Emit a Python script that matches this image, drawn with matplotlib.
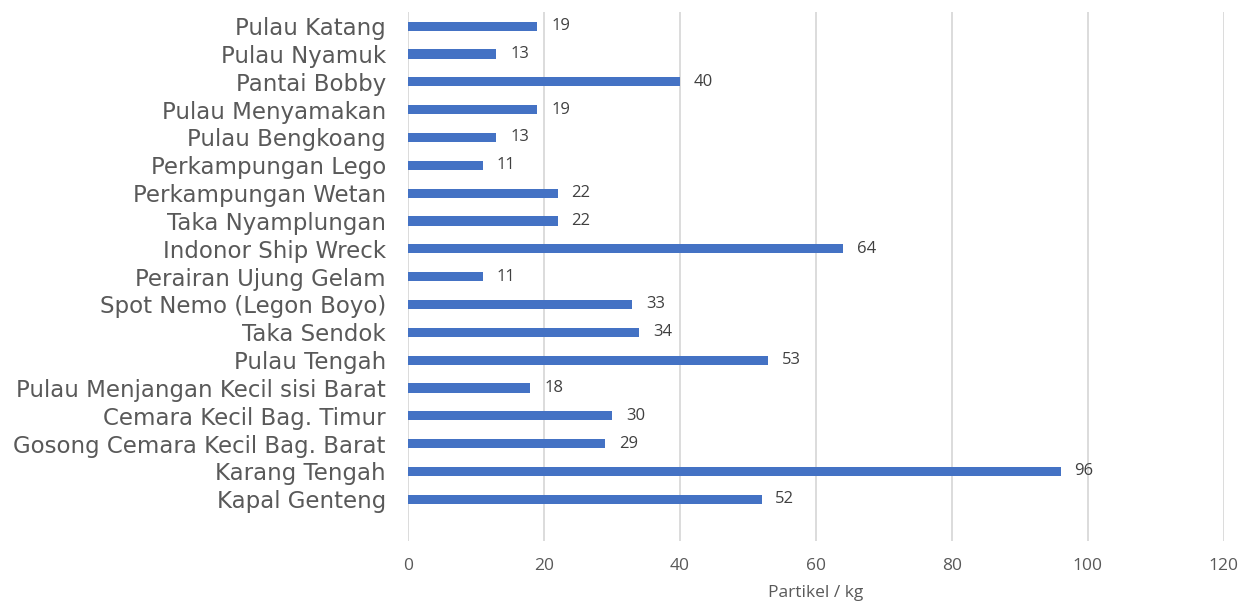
import matplotlib
matplotlib.use("Agg")
import matplotlib.pyplot as plt
import numpy as np

# categories listed top to bottom, as in the chart
sites = [
    "Pulau Katang",
    "Pulau Nyamuk",
    "Pantai Bobby",
    "Pulau Menyamakan",
    "Pulau Bengkoang",
    "Perkampungan Lego",
    "Perkampungan Wetan",
    "Taka Nyamplungan",
    "Indonor Ship Wreck",
    "Perairan Ujung Gelam",
    "Spot Nemo (Legon Boyo)",
    "Taka Sendok",
    "Pulau Tengah",
    "Pulau Menjangan Kecil sisi Barat",
    "Cemara Kecil Bag. Timur",
    "Gosong Cemara Kecil Bag. Barat",
    "Karang Tengah",
    "Kapal Genteng",
]
particles = [19, 13, 40, 19, 13, 11, 22, 22, 64, 11, 33, 34, 53, 18, 30, 29, 96, 52]
x_ticks = [0, 20, 40, 60, 80, 100, 120]

fig = plt.figure(figsize=(12.45, 6.1), dpi=100)
ax = fig.add_axes([0.3277, 0.113, 0.6553, 0.867])

n = len(sites)
ypos = np.arange(n)[::-1]
ax.barh(ypos, particles, height=0.33, color="#4472C4", zorder=3)

for y, v in zip(ypos, particles):
    ax.annotate(str(v), (v, y), xytext=(10, 0), textcoords="offset points",
                va="center", ha="left", fontsize=12, color="#404040",
                family="Open Sans")

ax.set_xlim(0, 120)
ax.set_ylim(-1.5, n - 0.5)
ax.set_xticks(x_ticks)
ax.set_yticks(ypos)
ax.set_yticklabels(sites, fontsize=16.5, color="#595959", family="DejaVu Sans")
ax.tick_params(axis="x", labelsize=12.5, labelcolor="#595959", length=0, pad=12)
ax.tick_params(axis="y", length=0, pad=16)
for lab in ax.get_xticklabels():
    lab.set_family("Open Sans")

ax.grid(axis="x", color="#d9d9d9", linewidth=1.3, zorder=0)
for s in ax.spines.values():
    s.set_visible(False)

ax.set_xlabel("Partikel / kg", fontsize=12.5, color="#595959", family="Open Sans",
              labelpad=8)

fig.savefig("out.png", dpi=100)
